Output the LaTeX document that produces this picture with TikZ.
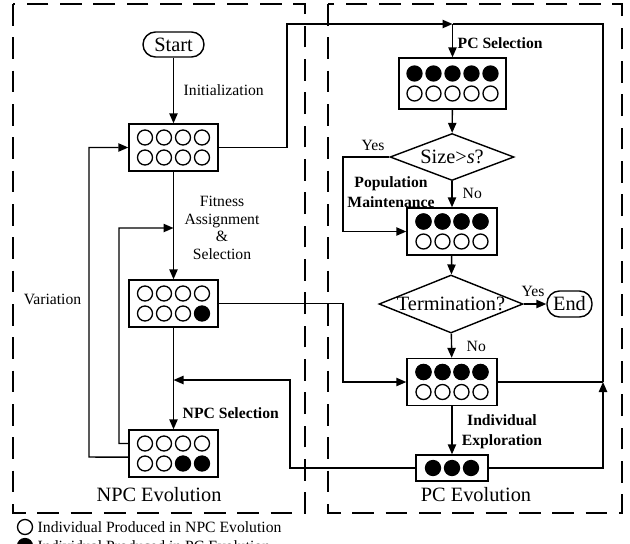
\documentclass[tikz,border=0pt]{standalone}
\usepackage{fontspec}
\setmainfont{Liberation Serif}
\usetikzlibrary{arrows.meta,shapes.geometric}
\begin{document}
\begin{tikzpicture}[x=0.6pt,y=-0.6pt,
  line width=0.85pt,
  >={Triangle[length=6pt,width=5pt]},
  txt/.style={font=\fontsize{9.4}{11}\selectfont, inner sep=0pt},
  btxt/.style={font=\fontsize{9.4}{12}\selectfont\bfseries, inner sep=0pt},
  ttl/.style={font=\fontsize{12.2}{14}\selectfont, inner sep=0pt},
  popbox/.style={draw, rectangle, inner sep=0pt, minimum width=53.4pt, minimum height=28.2pt},
  term/.style={draw, rectangle, rounded corners=7.5pt, inner sep=0pt, font=\fontsize{12.2}{14}\selectfont},
  dia/.style={draw, diamond, inner sep=0pt},
  frame/.style={dash pattern=on 13pt off 7pt, line width=0.8pt},
  ind/.style={line width=0.8pt},
]
\useasboundingbox (0,0) rectangle (630,543);

% dashed frames
\draw[frame] (13,4) rectangle (305,513);
\draw[frame] (328,4) rectangle (622,513);

% nodes
\node[term, minimum width=36.6pt, minimum height=15pt] (start) at (173.5,44.5) {Start};
\node[popbox] (b1) at (173.5,147.5) {};
\node[popbox] (b2) at (173.5,303.5) {};
\node[popbox] (b3) at (173.5,453.5) {};
\node[popbox, minimum width=64.2pt, minimum height=30.6pt] (pa) at (452.5,83.5) {};
\node[dia, minimum width=74.4pt, minimum height=28.2pt] (size) at (452,157) {};
\node[ttl] (sizet) at (size.center) {Size>\textit{s}?};
\node[popbox, minimum width=54pt] (pb) at (452,231.5) {};
\node[dia, minimum width=86.4pt, minimum height=34.8pt] (termd) at (451,304) {};
\node[ttl] (termt) at (termd.center) {Termination?};
\node[term, minimum width=27pt, minimum height=15.6pt] (end) at (569.5,304) {End};
\node[popbox, minimum width=54pt] (pc) at (452,382) {};
\node[popbox, minimum width=43.2pt, minimum height=15.6pt] (pd) at (452,468) {};

% individuals
\foreach \dx in {-28.5,-9.5,9.5,28.5}{
  \draw[ind] (173.5+\dx,137.5) circle (4.5pt);
  \draw[ind] (173.5+\dx,157.5) circle (4.5pt);
  \draw[ind] (173.5+\dx,293.5) circle (4.5pt);
  \draw[ind] (452+\dx,221.5) circle (4.5pt);
  \draw[ind] (452+\dx,241.5) circle (4.5pt);
  \draw[ind] (452+\dx,372) circle (4.5pt);
  \draw[ind] (452+\dx,392) circle (4.5pt);
  \draw[ind] (173.5+\dx,443.5) circle (4.5pt);
}
\foreach \dx in {-28.5,-9.5,9.5}{\draw[ind] (173.5+\dx,313.5) circle (4.5pt);}
\fill (202,313.5) circle (4.9pt);
\foreach \dx in {-28.5,-9.5}{\draw[ind] (173.5+\dx,463.5) circle (4.5pt);}
\foreach \dx in {9.5,28.5}{\fill (173.5+\dx,463.5) circle (4.9pt);}
\foreach \dx in {-28.5,-9.5,9.5,28.5}{
  \fill (452+\dx,221.5) circle (4.9pt);
  \fill (452+\dx,372) circle (4.9pt);
}
\foreach \dx in {-38,-19,0,19,38}{
  \fill (452.5+\dx,73.5) circle (4.9pt);
  \draw[ind] (452.5+\dx,93.5) circle (4.5pt);
}
\foreach \dx in {-19,0,19}{\fill (452+\dx,468) circle (4.9pt);}

% junction coordinates
\coordinate (jA) at (452.5,24);
\coordinate (jR) at (603,382);
\coordinate (jL) at (173.5,380);
\coordinate (jF) at (173.5,228);

% connectors
\draw[->] (start) -- (b1);
\draw[->] (b1) -- (b2);
\draw[->] (b2) -- (b3);
\draw[->] (b1.east) -| (287,24) -- (jA);
\draw[->] (jA) -- (pa);
\draw[->] (pa) -- (size);
\draw[->] (size.west) -- (343,157) |- (pb.west);
\draw[->] (size) -- (pb);
\draw[->] (pb) -- (termd);
\draw[->] (termd) -- (end);
\draw[->] (termd) -- (pc);
\draw[->] (b2.east) -- (343,303.5) |- (pc.west);
\draw (pc.east) -- (jR);
\draw[->] (pd.east) -| (jR);
\draw (jR) -- (603,24) -- (jA);
\draw[->] (pc) -- (pd);
\draw[->] (pd.west) -- (290,468) |- (jL);
\draw[->] ([yshift=6pt]b3.west) -- (119,443.5) |- (jF);
\draw[->] ([yshift=-2.2pt]b3.west) -- (89,457) |- (b1.west);

% labels
\node[txt, anchor=west] (linit) at (183,90) {Initialization};
\node[txt, align=center] (lfit) at (222,228) {Fitness\\[-0.5pt]Assignment\\[-0.5pt]\&\\[-0.5pt]Selection};
\node[txt] (lvar) at (52.5,299) {Variation};
\node[btxt, anchor=west] (lnpcs) at (182,413) {NPC Selection};
\node[btxt, anchor=west] (lpcs) at (457,43) {PC Selection};
\node[txt] (lyes1) at (373,145) {Yes};
\node[txt, anchor=west] (lno1) at (462,193) {No};
\node[btxt, align=center] (lpm) at (391,192) {Population\\Maintenance};
\node[txt] (lyes2) at (533,291) {Yes};
\node[txt, anchor=west] (lno2) at (466,346) {No};
\node[btxt, align=center] (lie) at (502,432) {Individual\\Exploration};
\node[ttl] (tnpc) at (159,495) {NPC Evolution};
\node[ttl] (tpc) at (476,495) {PC Evolution};

% legend
\draw[ind] (25,527) circle (4.5pt);
\node[txt, anchor=west] (leg1) at (37,527) {Individual Produced in NPC Evolution};
\fill (25,546) circle (4.9pt);
\node[txt, anchor=west] (leg2) at (37,546) {Individual Produced in PC Evolution};
\end{tikzpicture}
\end{document}
